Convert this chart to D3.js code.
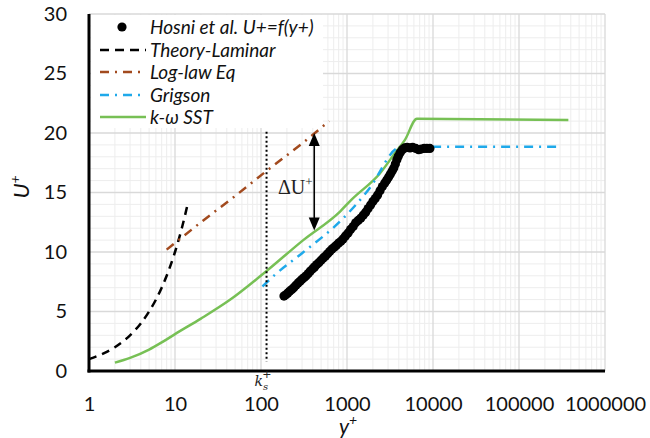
<!DOCTYPE html>
<html><head><meta charset="utf-8">
<script src="https://cdn.jsdelivr.net/npm/d3@7"></script>
<style>body{margin:0;background:#fff}svg{display:block}</style>
</head><body>
<svg id="c" width="650" height="438"></svg>
<script>
// ---- data ----
const xTickValues = [1, 10, 100, 1000, 10000, 100000, 1000000];
const xTickLabels = ["1", "10", "100", "1000", "10000", "100000", "1000000"];
const yTickValues = [0, 5, 10, 15, 20, 25, 30];

const hosniYp = [185,195,205,215,228,240,255,270,285,300,318,335,355,375,400,420,445,470,500,530,560,595,630,670,710,750,800,850,
  900,960,1030,1100,1180,1260,1350,1450,1550,1650,1760,1880,2000,2130,2270,2420,2580,2750,2900,3050,3200,3350,3500,3650,3800,3950,
  4150,4400,4700,5000,5400,5800,6300,6800,7300,7900,8500,9200];
const hosniU = [6.3,6.4,6.55,6.7,6.85,7.0,7.2,7.4,7.55,7.7,7.85,8.0,8.2,8.4,8.6,8.75,8.95,9.1,9.3,9.5,9.65,9.85,10.05,10.25,10.4,10.55,10.75,10.9,
  11.1,11.35,11.6,11.9,12.15,12.45,12.65,12.85,13.1,13.35,13.65,13.95,14.25,14.5,14.8,15.15,15.5,15.8,16.05,16.3,16.55,16.8,17.05,17.4,17.75,18.05,
  18.35,18.6,18.75,18.8,18.75,18.8,18.7,18.6,18.65,18.7,18.7,18.7];

const laminarYp = [1,1.5,2,2.5,3,4,5,6,7,8,9,10,11,12,13,13.8];
const laminarU  = [1,1.5,2,2.5,3,4,5,6,7,8,9,10,11,12,13,13.8];

const loglawYp = [8, 20, 50, 120, 300, 620];
const loglawU  = [10.2, 12.5, 14.7, 16.9, 19.1, 21.0];

const grigsonYp = [104, 146, 300, 866, 1850, 3780, 4300, 300000];
const grigsonU  = [7.1, 8.1, 9.9, 12.7, 15.4, 18.7, 18.85, 18.85];

const sstYp = [2, 3, 5, 7, 10, 20, 44, 116, 310, 830, 1130, 2410, 3780, 4700, 6500, 375000];
const sstU  = [0.7, 1.1, 1.8, 2.4, 3.1, 4.4, 6.0, 8.4, 11.0, 13.4, 14.4, 16.6, 18.5, 19.4, 21.2, 21.1];

const ksPlus = 116;
const deltaU = {yp: 416, top: 20.0, bottom: 11.8};

// ---- chart ----
const svg = d3.select("#c");
const L = 89, R = 605, T = 14, B = 371;
const x = d3.scaleLog().domain([1, 1e6]).range([L, R]);
const y = d3.scaleLinear().domain([0, 30]).range([B, T]);

const grid = svg.append("g");
const minorX = [];
for (let d = 1; d < 1e6; d *= 10) for (let k = 2; k <= 9; k++) minorX.push(d * k);
grid.selectAll(".mx").data(minorX).enter().append("line")
  .attr("x1", d => x(d)).attr("x2", d => x(d)).attr("y1", T).attr("y2", B)
  .attr("stroke", "#ededed").attr("stroke-width", 1);
const minorY = d3.range(1, 30).filter(v => v % 5 !== 0);
grid.selectAll(".my").data(minorY).enter().append("line")
  .attr("x1", L).attr("x2", R).attr("y1", d => y(d)).attr("y2", d => y(d))
  .attr("stroke", "#ededed").attr("stroke-width", 1);
grid.selectAll(".Mx").data(xTickValues).enter().append("line")
  .attr("x1", d => x(d)).attr("x2", d => x(d)).attr("y1", T).attr("y2", B)
  .attr("stroke", "#d9d9d9").attr("stroke-width", 1.3);
grid.selectAll(".My").data(yTickValues).enter().append("line")
  .attr("x1", L).attr("x2", R).attr("y1", d => y(d)).attr("y2", d => y(d))
  .attr("stroke", "#d9d9d9").attr("stroke-width", 1.3);

// axes
const fontSans = "Lato, 'Open Sans', sans-serif";
const xAxis = d3.axisBottom(x).tickValues(xTickValues)
  .tickFormat((d, i) => xTickLabels[i]).tickSize(0).tickPadding(26);
const gx = svg.append("g").attr("transform", `translate(0,${B})`).call(xAxis);
gx.select(".domain").remove();
gx.selectAll("text").attr("font-family", fontSans).attr("font-size", 20).attr("fill", "#111");

const yAxis = d3.axisLeft(y).tickValues(yTickValues).tickSize(0).tickPadding(22);
const gy = svg.append("g").attr("transform", `translate(${L},0)`).call(yAxis);
gy.select(".domain").remove();
gy.selectAll("text").attr("font-family", fontSans).attr("font-size", 20).attr("fill", "#111");

svg.append("line").attr("x1", L).attr("x2", L).attr("y1", T).attr("y2", B + 1.5)
  .attr("stroke", "#000").attr("stroke-width", 3);
svg.append("line").attr("x1", L - 1.5).attr("x2", R).attr("y1", B).attr("y2", B)
  .attr("stroke", "#000").attr("stroke-width", 3);

// legend background
svg.append("rect").attr("x", L + 2).attr("y", T + 1).attr("width", 232).attr("height", 113).attr("fill", "#fff");

const line = d3.line().x(d => x(d[0])).y(d => y(d[1]));
const zip = (a, b) => a.map((v, i) => [v, b[i]]);

// series
svg.append("path").datum(zip(laminarYp, laminarU)).attr("d", line.curve(d3.curveMonotoneX))
  .attr("fill", "none").attr("stroke", "#000").attr("stroke-width", 2.5).attr("stroke-dasharray", "8,6");
svg.append("path").datum(zip(loglawYp, loglawU)).attr("d", line.curve(d3.curveLinear))
  .attr("fill", "none").attr("stroke", "#a24a1e").attr("stroke-width", 2.5).attr("stroke-dasharray", "9,6,2,6");
svg.append("path").datum(zip(sstYp, sstU)).attr("d", d3.line().x(d => x(d[0])).y(d => y(d[1])).curve(d3.curveMonotoneX))
  .attr("fill", "none").attr("stroke", "#77c055").attr("stroke-width", 2.5);
svg.append("path").datum(zip(grigsonYp, grigsonU)).attr("d", d3.line().x(d => x(d[0])).y(d => y(d[1])).curve(d3.curveMonotoneX))
  .attr("fill", "none").attr("stroke", "#1fa9ea").attr("stroke-width", 2.5).attr("stroke-dasharray", "9,6,2,6");

svg.append("g").selectAll("circle").data(zip(hosniYp, hosniU)).enter().append("circle")
  .attr("cx", d => x(d[0])).attr("cy", d => y(d[1])).attr("r", 4.6).attr("fill", "#000");

// ks+ dotted line
svg.append("line").attr("x1", x(ksPlus)).attr("x2", x(ksPlus)).attr("y1", y(20.1)).attr("y2", y(0.8))
  .attr("stroke", "#000").attr("stroke-width", 2).attr("stroke-dasharray", "2,2.5");
const ksT = svg.append("text").attr("x", x(ksPlus) - 12).attr("y", 386)
  .attr("font-family", "'DejaVu Serif', 'Liberation Serif', serif").attr("font-style", "italic").attr("font-size", 14).attr("fill", "#222");
ksT.append("tspan").text("k");
ksT.append("tspan").attr("font-size", 10).attr("dy", 4).text("s");
ksT.append("tspan").attr("font-size", 11).attr("dx", -6).attr("dy", -12).text("+");

// delta U arrow
const ax = x(deltaU.yp);
svg.append("line").attr("x1", ax).attr("x2", ax).attr("y1", y(deltaU.top) + 10).attr("y2", y(deltaU.bottom) - 10)
  .attr("stroke", "#000").attr("stroke-width", 1.6);
svg.append("path").attr("d", `M${ax},${y(deltaU.top)} l-5.5,13 l11,0 z`).attr("fill", "#000");
svg.append("path").attr("d", `M${ax},${y(deltaU.bottom)} l-5.5,-13 l11,0 z`).attr("fill", "#000");
const dT = svg.append("text").attr("x", 278).attr("y", 194)
  .attr("font-family", "'Liberation Serif', 'DejaVu Serif', serif").attr("font-size", 20).attr("fill", "#222");
dT.append("tspan").text("ΔU");
dT.append("tspan").attr("font-size", 13).attr("dy", -8).text("+");

// axis titles
const yt = svg.append("text").attr("transform", "translate(29,187) rotate(-90)").attr("text-anchor", "middle")
  .attr("font-family", fontSans).attr("font-style", "italic").attr("font-size", 22).attr("fill", "#111");
yt.append("tspan").text("U");
yt.append("tspan").attr("font-size", 14).attr("dy", -9).text("+");
const xt = svg.append("text").attr("x", 339).attr("y", 434)
  .attr("font-family", fontSans).attr("font-style", "italic").attr("font-size", 21).attr("fill", "#111");
xt.append("tspan").text("y");
xt.append("tspan").attr("font-size", 14).attr("dy", -9).text("+");

// legend
const legendNames = ["Hosni et al. U+=f(y+)", "Theory-Laminar", "Log-law Eq", "Grigson", "k-ω SST"];
const lg = svg.append("g");
const rows = [27, 50, 72, 95, 117];
lg.append("circle").attr("cx", 122).attr("cy", rows[0]).attr("r", 4.6).attr("fill", "#000");
const styles = [null, ["#000", "9,6"], ["#a24a1e", "9,6,2,6"], ["#1fa9ea", "9,6,2,6"], ["#77c055", null]];
styles.forEach((s, i) => {
  if (!s) return;
  const l = lg.append("line").attr("x1", 100).attr("x2", 146).attr("y1", rows[i]).attr("y2", rows[i])
    .attr("stroke", s[0]).attr("stroke-width", 2.5);
  if (s[1]) l.attr("stroke-dasharray", s[1]);
});
lg.selectAll("text").data(legendNames).enter().append("text")
  .attr("x", 150).attr("y", (d, i) => rows[i]).attr("dy", "0.35em")
  .attr("font-family", fontSans).attr("font-style", "italic").attr("font-size", 19).attr("fill", "#111")
  .text(d => d);
</script>
</body></html>
